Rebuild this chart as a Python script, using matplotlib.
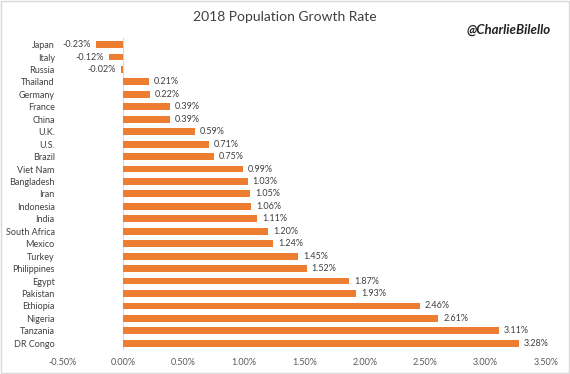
import matplotlib
matplotlib.use("Agg")
import matplotlib.pyplot as plt
from matplotlib.ticker import FuncFormatter

countries = ["Japan", "Italy", "Russia", "Thailand", "Germany", "France", "China", "U.K.",
             "U.S.", "Brazil", "Viet Nam", "Bangladesh", "Iran", "Indonesia", "India",
             "South Africa", "Mexico", "Turkey", "Philippines", "Egypt", "Pakistan",
             "Ethiopia", "Nigeria", "Tanzania", "DR Congo"]
growth = [-0.23, -0.12, -0.02, 0.21, 0.22, 0.39, 0.39, 0.59, 0.71, 0.75, 0.99, 1.03, 1.05,
          1.06, 1.11, 1.20, 1.24, 1.45, 1.52, 1.87, 1.93, 2.46, 2.61, 3.11, 3.28]
xticks = [-0.5, 0.0, 0.5, 1.0, 1.5, 2.0, 2.5, 3.0, 3.5]

plt.rcParams['font.family'] = ['Lato', 'DejaVu Sans']

fig = plt.figure(figsize=(5.7, 3.74), dpi=100)
ax = fig.add_axes([0.1105, 0.0655, 0.847, 0.832])

n = len(countries)
ypos = list(range(n))
ax.barh(ypos, growth, height=0.55, color="#ED7D31", zorder=2)
ax.set_ylim(n - 0.5, -0.5)
ax.set_xlim(-0.5, 3.5)
ax.set_xticks(xticks)
ax.xaxis.set_major_formatter(FuncFormatter(lambda v, p: f"{v:.2f}%"))
ax.set_yticks(ypos)
ax.set_yticklabels(countries)
ax.tick_params(axis='y', length=0, pad=6, labelsize=6.5, labelcolor="#404040")
ax.tick_params(axis='x', length=0, pad=6, labelsize=6.5, labelcolor="#595959")
for s in ax.spines.values():
    s.set_visible(False)
ax.axvline(0, color="#d9d9d9", lw=0.8, zorder=1)

for y, v in zip(ypos, growth):
    if v < 0:
        ax.text(v - 0.04, y, f"{v:.2f}%", ha='right', va='center', fontsize=6.5, color="#404040")
    else:
        ax.text(v + 0.04, y, f"{v:.2f}%", ha='left', va='center', fontsize=6.5, color="#404040")

fig.text(0.5, 0.955, "2018 Population Growth Rate", ha='center', va='center', fontsize=10, color="#404040")
fig.text(0.893, 0.92, "@CharlieBilello", ha='center', va='center', fontsize=9.5,
         fontweight='bold', fontstyle='italic', color="#222222")

border = plt.Rectangle((0.002, 0.002), 0.996, 0.996, transform=fig.transFigure, fill=False,
                       edgecolor="#d9d9d9", lw=1)
fig.patches.append(border)

fig.savefig("out.png", dpi=100)
